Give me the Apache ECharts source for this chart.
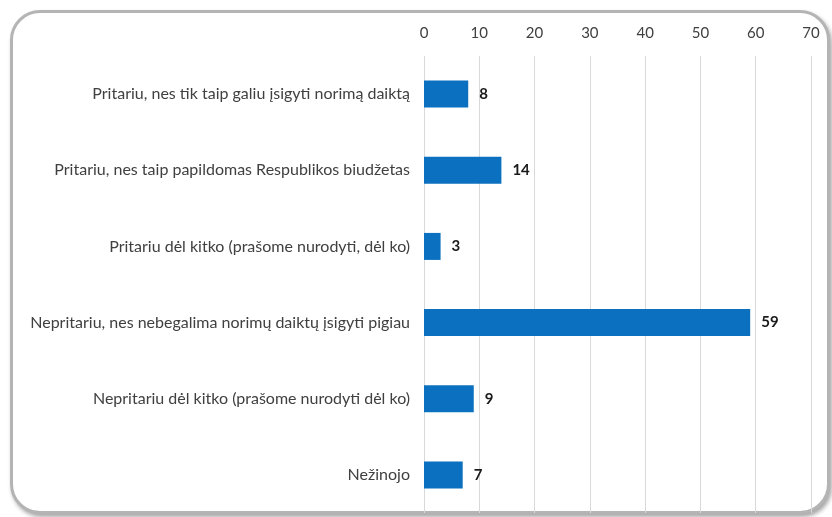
<!DOCTYPE html>
<html>
<head>
<meta charset="utf-8">
<script src="https://cdn.jsdelivr.net/npm/echarts@6/dist/echarts.min.js"></script>
<style>
  html, body { margin: 0; padding: 0; background: #fff; }
  .wrap { position: relative; width: 832px; height: 517px; overflow: hidden; }
  .frame {
    position: absolute; left: 10px; top: 10px; width: 814px; height: 498px;
    border: 3px solid #b4b4b4; border-radius: 30px;
    box-shadow: 2px 3px 4px rgba(0,0,0,0.35);
    background: #fff;
  }
  #chart { position: absolute; left: 0; top: 0; width: 832px; height: 517px; }
</style>
</head>
<body>
<div class="wrap">
  <div class="frame"></div>
  <div id="chart"></div>
</div>
<script>
  // kategorijos (iš viršaus į apačią)
  const categories = [
    'Pritariu, nes tik taip galiu įsigyti norimą daiktą',
    'Pritariu, nes taip papildomas Respublikos biudžetas',
    'Pritariu dėl kitko (prašome nurodyti, dėl ko)',
    'Nepritariu, nes nebegalima norimų daiktų įsigyti pigiau',
    'Nepritariu dėl kitko (prašome nurodyti dėl ko)',
    'Nežinojo'
  ];
  const values = [8, 14, 3, 59, 9, 7];
  const axisMin = 0;
  const axisMax = 70;
  const axisStep = 10;

  let myChart = echarts.init(document.getElementById('chart'), null, { renderer: 'canvas' });

  let option = {
    backgroundColor: 'transparent',
    animation: false,
    grid: {
      left: 424,
      right: 21,
      top: 56,
      bottom: 4
    },
    xAxis: {
      type: 'value',
      position: 'top',
      min: axisMin,
      max: axisMax,
      interval: axisStep,
      axisLine: { show: false },
      axisTick: { show: false },
      axisLabel: {
        color: '#404040',
        fontSize: 15,
        fontFamily: 'Lato',
        margin: 15
      },
      splitLine: {
        show: true,
        lineStyle: { color: '#d9d9d9', width: 1 }
      }
    },
    yAxis: {
      type: 'category',
      inverse: true,
      data: categories,
      axisLine: { show: false },
      axisTick: { show: false },
      axisLabel: {
        color: '#404040',
        fontSize: 16,
        fontFamily: 'Lato',
        margin: 14
      }
    },
    series: [{
      type: 'bar',
      data: values,
      barWidth: 27,
      itemStyle: { color: '#0a70bf' },
      label: {
        show: true,
        position: 'right',
        distance: 11,
        color: '#1a1a1a',
        fontWeight: 'bold',
        fontSize: 15,
        fontFamily: 'Lato'
      }
    }]
  };

  myChart.setOption(option, true);

  window.addEventListener('resize', () => {
    myChart.resize();
  });
</script>
</body>
</html>
